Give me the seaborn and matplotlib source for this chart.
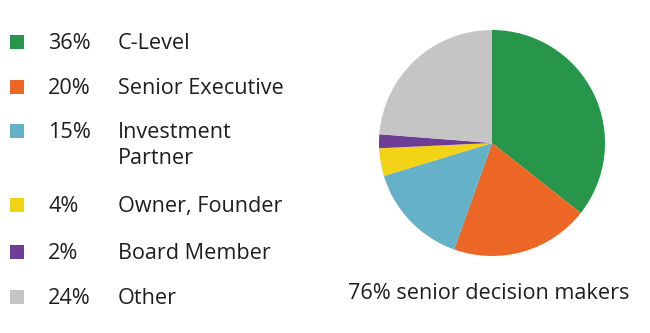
import matplotlib
matplotlib.use("Agg")
import matplotlib.pyplot as plt
from matplotlib.patches import Rectangle
import seaborn as sns

categories = ["C-Level", "Senior Executive", "Investment\nPartner", "Owner, Founder", "Board Member", "Other"]
values = [36, 20, 15, 4, 2, 24]
pct_labels = ["36%", "20%", "15%", "4%", "2%", "24%"]
colors = ["#28964A", "#EC6726", "#64B1C8", "#F2D316", "#6E3D96", "#C5C5C5"]
caption = "76% senior decision makers"

sns.set_theme(style="white")
plt.rcParams["font.family"] = ["Open Sans", "DejaVu Sans"]

W, H = 650, 333
fig = plt.figure(figsize=(W / 100, H / 100), dpi=100)
fig.patch.set_facecolor("white")

# pie
cx, cy, r = 492, 143, 113
ax = fig.add_axes([(cx - r) / W, 1 - (cy + r) / H, 2 * r / W, 2 * r / H])
ax.pie(values, colors=sns.color_palette(colors), startangle=90, counterclock=False,
       wedgeprops=dict(linewidth=0))
ax.set_xlim(-1, 1)
ax.set_ylim(-1, 1)
ax.set_aspect("auto")
ax.axis("off")

txt = "#1e1e1e"
fs = 15.6
fig.text(489 / W, 1 - 299 / H, caption, ha="center", va="baseline", fontsize=fs, color=txt)

# legend
row_y = [42, 87, 131, 205, 252, 297]
for yc, col, p, lab in zip(row_y, colors, pct_labels, categories):
    fig.patches.append(Rectangle((10 / W, 1 - (yc + 7) / H), 14 / W, 14 / H,
                                 transform=fig.transFigure, facecolor=col, edgecolor="none"))
    fig.text(48 / W, 1 - (yc + 7) / H, p, ha="left", va="baseline", fontsize=fs, color=txt)
    lines = lab.split("\n")
    for i, line in enumerate(lines):
        fig.text(118 / W, 1 - (yc + 7 + 26 * i) / H, line, ha="left", va="baseline",
                 fontsize=fs, color=txt)

fig.savefig("out.png", dpi=100, facecolor="white")
